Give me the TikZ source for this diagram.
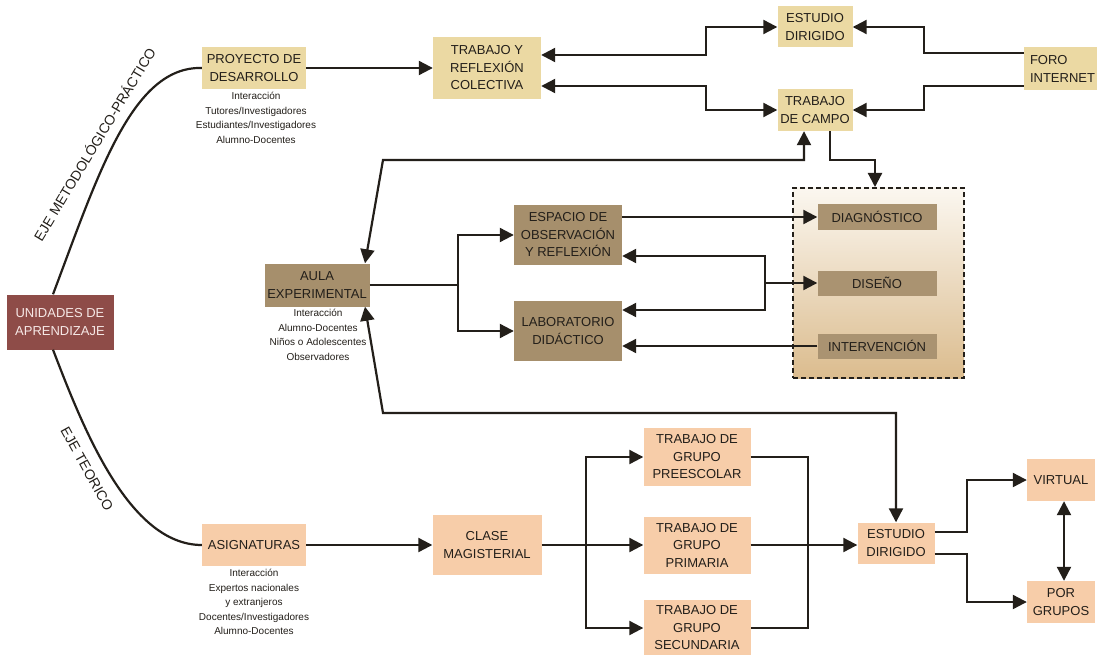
\documentclass[tikz,border=0pt]{standalone}
\usepackage{fontspec}
\setmainfont{Liberation Sans}
\usetikzlibrary{arrows.meta}

\definecolor{ink}{HTML}{231F1A}
\definecolor{unired}{HTML}{8E4C48}
\definecolor{unitext}{HTML}{F6E8E6}
\definecolor{khaki}{HTML}{EBD9A3}
\definecolor{umber}{HTML}{A68F6C}
\definecolor{umberlt}{HTML}{AA9371}
\definecolor{peach}{HTML}{F7CDA9}
\definecolor{shadetop}{HTML}{FBF7F0}
\definecolor{shadebot}{HTML}{DBBC8E}

\begin{document}
\begin{tikzpicture}[x=1pt,y=-1pt,
  every node/.style={font=\fontsize{13}{17.5}\selectfont, text=ink},
  box/.style={inner sep=0pt, align=center},
  meth/.style={box, fill=khaki},
  aulabox/.style={box, fill=umber},
  phase/.style={box, fill=umberlt, minimum width=119pt, minimum height=25pt},
  theo/.style={box, fill=peach},
  note/.style={inner sep=0pt, align=center, font=\fontsize{10}{14.6}\selectfont},
  axis/.style={inner sep=0pt, font=\fontsize{14}{16}\selectfont},
  link/.style={line width=2.2pt, draw=ink},
  >={Triangle[length=14pt,width=14pt]}]

\useasboundingbox (0,0) rectangle (1097,655);
\fill[white] (0,0) rectangle (1097,655);

% ---------- shaded phase panel ----------
\node[draw=ink, line width=2pt, dash pattern=on 5pt off 3pt,
      top color=shadetop, bottom color=shadebot,
      minimum width=171pt, minimum height=190pt, inner sep=0pt] (panel) at (878.5,283) {};

% ---------- boxes ----------
\node[box, fill=unired, text=unitext, minimum width=107pt, minimum height=55pt] (uni) at (60,322) {UNIDADES DE\\APRENDIZAJE};

\node[meth, minimum width=104pt, minimum height=42pt] (proy) at (254,68) {PROYECTO DE\\DESARROLLO};
\node[meth, minimum width=108pt, minimum height=62pt] (tyr) at (487,68) {TRABAJO Y\\REFLEXIÓN\\COLECTIVA};
\node[meth, minimum width=75pt, minimum height=41pt] (estA) at (815,27) {ESTUDIO\\DIRIGIDO};
\node[meth, minimum width=75pt, minimum height=42pt] (campo) at (815,110) {TRABAJO\\DE CAMPO};
\node[meth, text width=62pt, align=left, inner xsep=6pt, minimum height=43pt] (foro) at (1061,69) {FORO\\INTERNET};

\node[aulabox, minimum width=105pt, minimum height=43pt] (aula) at (317,285) {AULA\\EXPERIMENTAL};
\node[aulabox, minimum width=108pt, minimum height=60pt] (esp) at (568,235) {ESPACIO DE\\OBSERVACIÓN\\Y REFLEXIÓN};
\node[aulabox, minimum width=108pt, minimum height=60pt] (lab) at (568,331) {LABORATORIO\\DIDÁCTICO};

\node[phase] (diag) at (877,217) {DIAGNÓSTICO};
\node[phase] (dis) at (877,283) {DISEÑO};
\node[phase] (interv) at (877,346) {INTERVENCIÓN};

\node[theo, minimum width=104pt, minimum height=42pt] (asig) at (254,545) {ASIGNATURAS};
\node[theo, minimum width=109pt, minimum height=60pt] (clase) at (487,545) {CLASE\\MAGISTERIAL};
\node[theo, minimum width=107pt, minimum height=58pt] (pre) at (697,457) {TRABAJO DE\\GRUPO\\PREESCOLAR};
\node[theo, minimum width=107pt, minimum height=57pt] (pri) at (697,545) {TRABAJO DE\\GRUPO\\PRIMARIA};
\node[theo, minimum width=107pt, minimum height=56pt] (sec) at (697,628) {TRABAJO DE\\GRUPO\\SECUNDARIA};
\node[theo, minimum width=77pt, minimum height=41pt] (estB) at (896,543) {ESTUDIO\\DIRIGIDO};
\node[theo, minimum width=68pt, minimum height=42pt] (virt) at (1061,480) {VIRTUAL};
\node[theo, minimum width=68pt, minimum height=42pt] (porg) at (1061,602) {POR\\GRUPOS};

% ---------- interaction notes ----------
\node[note, anchor=north] (proyN) at (256,92) {Interacción\\Tutores/Investigadores\\Estudiantes/Investigadores\\Alumno-Docentes};
\node[note, anchor=north] (aulaN) at (318,309) {Interacción\\Alumno-Docentes\\Niños o Adolescentes\\Observadores};
\node[note, anchor=north] (asigN) at (254,569) {Interacción\\Expertos nacionales\\y extranjeros\\Docentes/Investigadores\\Alumno-Docentes};

% ---------- the two axes ----------
\draw[link] ([xshift=-7pt]uni.north) .. controls (98,175) and (132,66) .. (proy.west);
\node[axis, rotate=59] (ejeMP) at (94,144) {EJE METODOLÓGICO-PRÁCTICO};
\draw[link] ([xshift=-7pt]uni.south) .. controls (82,425) and (128,545) .. (asig.west);
\node[axis, rotate=-61] (ejeT) at (87,469) {EJE TEORICO};

% ---------- methodological branch ----------
\draw[link, ->] (proy.east) -- (proy.east -| tyr.west);
\draw[link, <->] ([yshift=13pt]tyr.east) -- ++(165,0) |- (estA.west);
\draw[link, <->] ([yshift=-18pt]tyr.east) -- ++(165,0) |- (campo.west);
\draw[link, ->] ([yshift=16pt]foro.west) -- ++(-100,0) |- (estA.east);
\draw[link, ->] ([yshift=-17pt]foro.west) -- ++(-100,0) |- (campo.east);

\coordinate (k1) at (383,160);
\draw[link, <->] ([xshift=48pt]aula.north) -- (k1) -| ([xshift=-11pt]campo.south);
\draw[link, ->] ([xshift=15pt]campo.south) -- ++(0,29) -| ([xshift=-3.5pt]panel.north);

\coordinate (j1) at (458,285);
\draw[link] (aula.east) -- (j1);
\draw[link, ->] (j1) |- (esp.west);
\draw[link, ->] (j1) |- (lab.west);

\draw[link, ->] (diag.west -| esp.east) -- (diag.west);
\coordinate (j2) at (765,283);
\draw[link, <->] ([yshift=-21pt]esp.east) -| (j2) |- ([yshift=21pt]lab.east);
\draw[link, ->] (j2) -- (dis.west);
\draw[link, ->] (interv.west) -- (interv.west -| lab.east);

\coordinate (k2) at (383,413);
\draw[link, <->] ([xshift=48pt]aula.south) -- (k2) -| (estB.north);

% ---------- theoretical branch ----------
\draw[link, ->] (asig.east) -- (clase.west);
\draw[link, ->] (clase.east) -- (pri.west);
\coordinate (j3) at (586,545);
\draw[link, ->] (j3) |- (pre.west);
\draw[link, ->] (j3) |- (sec.west);
\draw[link] (pre.east) -- ++(57,0) |- (sec.east);
\draw[link, ->] (pri.east) -- (pri.east -| estB.west);
\draw[link, ->] ([yshift=11pt]estB.east) -- ++(32,0) |- (virt.west);
\draw[link, ->] ([yshift=-11pt]estB.east) -- ++(32,0) |- (porg.west);
\draw[link, <->] ([xshift=3pt]virt.south) -- ([xshift=3pt]porg.north);

\end{tikzpicture}
\end{document}
